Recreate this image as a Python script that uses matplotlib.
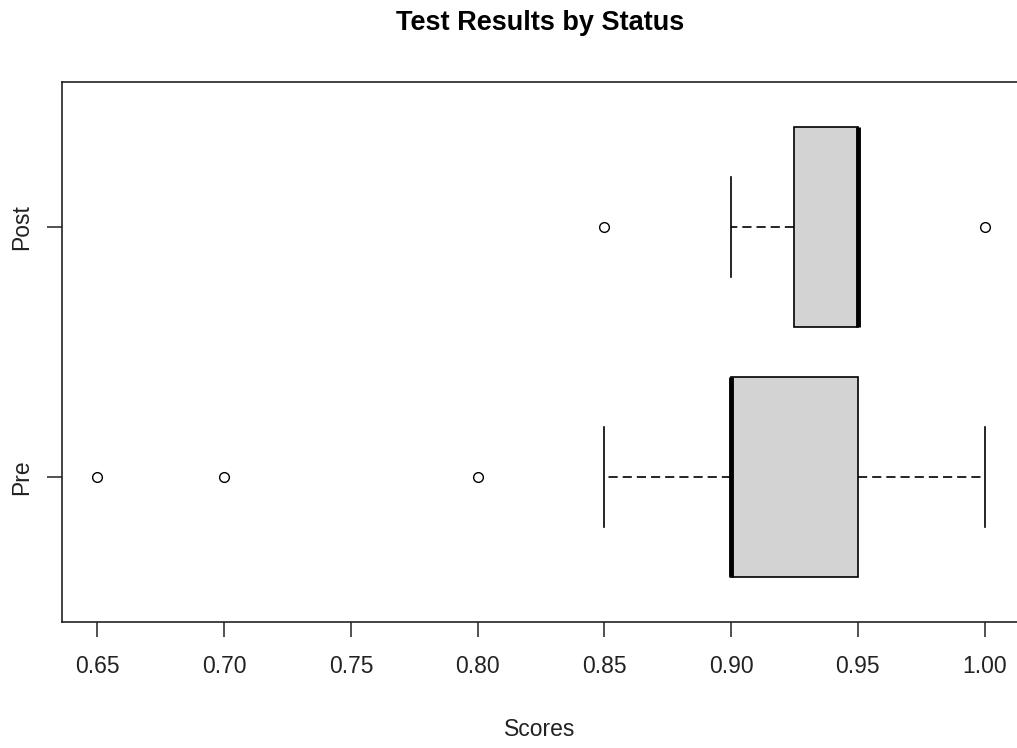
import matplotlib.pyplot as plt

plt.rcParams['font.family'] = ['Liberation Sans', 'DejaVu Sans']

# five-number summaries
grupos = ["Pre", "Post"]
q1 = [0.90, 0.925]
mediana = [0.90, 0.95]
q3 = [0.95, 0.95]
whis_lo = [0.85, 0.90]
whis_hi = [1.00, 0.95]
outliers = [[0.65, 0.70, 0.80], [0.85, 1.00]]

stats = []
for i, g in enumerate(grupos):
    stats.append({
        "label": g, "q1": q1[i], "med": mediana[i], "q3": q3[i],
        "whislo": whis_lo[i], "whishi": whis_hi[i], "fliers": outliers[i],
    })

fig = plt.figure(figsize=(10.17, 7.48), dpi=100)
ax = fig.add_axes([62 / 1017, 126 / 748, (1020 - 62) / 1017, 540 / 748])

ax.bxp(
    stats, positions=[1, 2], vert=False, widths=0.8, patch_artist=True,
    boxprops=dict(facecolor="#d3d3d3", edgecolor="black", linewidth=1.2),
    medianprops=dict(color="black", linewidth=3.5, solid_capstyle="butt"),
    whiskerprops=dict(color="black", linestyle=(0, (5.5, 3)), linewidth=1.2),
    capprops=dict(color="black", linewidth=1.2),
    capwidths=0.4,
    flierprops=dict(marker="o", markerfacecolor="white", markeredgecolor="black",
                    markersize=7, markeredgewidth=1),
)

ax.set_xlim(0.636, 1.014)
ax.set_ylim(0.42, 2.58)
ax.set_xticks([0.65, 0.70, 0.75, 0.80, 0.85, 0.90, 0.95, 1.00])
ax.set_xticklabels(["0.65", "0.70", "0.75", "0.80", "0.85", "0.90", "0.95", "1.00"])
ax.set_yticks([1, 2])
ax.set_yticklabels(grupos, rotation=90, va="center")
ax.tick_params(axis="both", labelsize=16.5, length=11, width=1.2, color="#333333",
               labelcolor="#222222")
ax.tick_params(axis="x", pad=13)
ax.tick_params(axis="y", pad=10)
for s in ax.spines.values():
    s.set_linewidth(1.2)
    s.set_color("#222222")

fig.text(540 / 1017, 1 - 23 / 748, "Test Results by Status", ha="center", va="center",
         fontsize=19.5, fontweight="bold")
fig.text(540 / 1017, 1 - 730 / 748, "Scores", ha="center", va="center", fontsize=16.5,
         color="#222222")

fig.savefig("out.png", dpi=100)
